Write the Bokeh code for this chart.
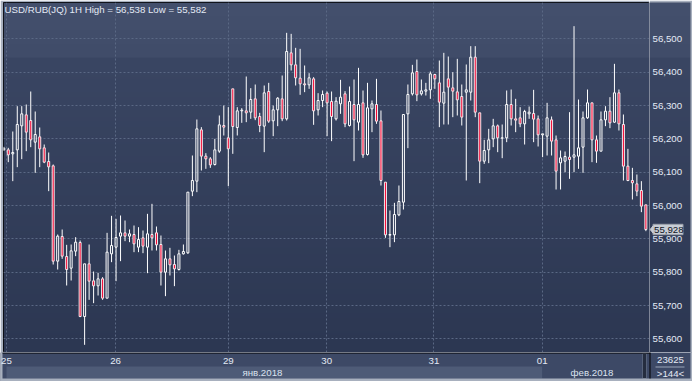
import numpy as np
from bokeh.plotting import figure
from bokeh.models import Range1d, FixedTicker, Label, ColumnDataSource
from bokeh.layouts import column, row
from bokeh.core.properties import value
from bokeh.embed import file_html
from bokeh.resources import INLINE

# ---------------- data ----------------
opens = [56.167, 56.167, 56.155, 56.167, 56.239, 56.272, 56.255, 56.190, 56.206, 56.173,
         56.132, 56.119, 55.833, 55.907, 55.847, 55.812, 55.863, 55.889, 55.667, 55.825,
         55.774, 55.759, 55.780, 55.722, 55.855, 55.875, 55.908, 55.918, 55.908, 55.913,
         55.875, 55.903, 55.875, 55.913, 55.918, 55.883, 55.800, 55.840, 55.823, 55.808,
         55.855, 55.858, 56.043, 56.073, 56.227, 56.148, 56.140, 56.123, 56.163, 56.240,
         56.203, 56.350, 56.234, 56.284, 56.284, 56.280, 56.320, 56.267, 56.238, 56.342,
         56.254, 56.287, 56.320, 56.260, 56.458, 56.422, 56.382, 56.365, 56.362, 56.380,
         56.287, 56.315, 56.337, 56.312, 56.260, 56.305, 56.335, 56.240, 56.303, 56.250,
         56.308, 56.153, 56.290, 56.303, 56.254, 56.070, 55.911, 55.912, 55.972, 56.010,
         56.275, 56.335, 56.402, 56.335, 56.343, 56.347, 56.393, 56.368, 56.307, 56.380,
         56.353, 56.341, 56.327, 56.340, 56.340, 56.445, 56.278, 56.133, 56.167, 56.200,
         56.239, 56.202, 56.203, 56.303, 56.260, 56.263, 56.245, 56.275, 56.276, 56.260,
         56.212, 56.208, 56.257, 56.197, 56.128, 56.133, 56.145, 56.145, 56.148, 56.175,
         56.263, 56.308, 56.197, 56.163, 56.257, 56.283, 56.250, 56.338, 56.243, 56.118,
         56.075, 56.065, 56.045, 56.002]
highs = [56.176, 56.173, 56.222, 56.298, 56.298, 56.303, 56.342, 56.282, 56.234, 56.183,
         56.159, 56.123, 55.913, 55.928, 55.882, 55.883, 55.905, 55.895, 55.825, 55.883,
         55.802, 55.798, 55.785, 55.918, 55.969, 55.960, 55.970, 55.955, 55.928, 55.940,
         55.935, 55.925, 55.975, 56.005, 55.937, 55.910, 55.865, 55.873, 55.850, 55.867,
         55.883, 56.040, 56.150, 56.258, 56.235, 56.157, 56.145, 56.200, 56.270, 56.300,
         56.295, 56.350, 56.295, 56.292, 56.387, 56.352, 56.363, 56.278, 56.360, 56.368,
         56.300, 56.325, 56.390, 56.518, 56.515, 56.473, 56.470, 56.420, 56.397, 56.385,
         56.337, 56.345, 56.342, 56.342, 56.325, 56.377, 56.343, 56.357, 56.378, 56.413,
         56.345, 56.368, 56.315, 56.380, 56.285, 56.070, 55.985, 56.008, 56.060, 56.273,
         56.363, 56.422, 56.438, 56.378, 56.368, 56.402, 56.395, 56.435, 56.458, 56.447,
         56.400, 56.440, 56.363, 56.423, 56.478, 56.478, 56.278, 56.197, 56.230, 56.260,
         56.243, 56.243, 56.345, 56.348, 56.320, 56.295, 56.287, 56.297, 56.347, 56.270,
         56.215, 56.308, 56.267, 56.210, 56.165, 56.162, 56.280, 56.538, 56.318, 56.282,
         56.348, 56.308, 56.210, 56.282, 56.298, 56.325, 56.425, 56.348, 56.273, 56.170,
         56.113, 56.093, 56.073, 56.002]
lows = [56.164, 56.130, 56.073, 56.115, 56.139, 56.163, 56.175, 56.098, 56.115, 56.127,
        56.043, 55.823, 55.808, 55.840, 55.760, 55.775, 55.848, 55.665, 55.582, 55.717,
        55.707, 55.730, 55.717, 55.722, 55.830, 55.773, 55.833, 55.893, 55.890, 55.860,
        55.860, 55.857, 55.797, 55.865, 55.865, 55.760, 55.728, 55.790, 55.758, 55.805,
        55.853, 55.855, 56.028, 56.040, 56.105, 56.110, 56.113, 56.120, 56.158, 56.210,
        56.058, 56.155, 56.210, 56.248, 56.250, 56.260, 56.256, 56.220, 56.160, 56.248,
        56.208, 56.238, 56.253, 56.255, 56.405, 56.360, 56.332, 56.340, 56.350, 56.242,
        56.270, 56.295, 56.208, 56.193, 56.255, 56.275, 56.235, 56.237, 56.133, 56.225,
        56.143, 56.150, 56.220, 56.245, 56.060, 55.903, 55.875, 55.890, 55.968, 55.988,
        56.172, 56.330, 56.313, 56.330, 56.330, 56.320, 56.350, 56.235, 56.243, 56.243,
        56.265, 56.270, 56.240, 56.075, 56.315, 56.265, 56.067, 56.125, 56.127, 56.175,
        56.160, 56.142, 56.190, 56.240, 56.220, 56.235, 56.183, 56.260, 56.190, 56.177,
        56.145, 56.150, 56.150, 56.048, 56.048, 56.100, 56.080, 56.100, 56.110, 56.098,
        56.260, 56.130, 56.128, 56.163, 56.238, 56.232, 56.248, 56.225, 56.075, 56.073,
        56.018, 56.028, 55.980, 55.923]
closes = [56.172, 56.152, 56.159, 56.243, 56.275, 56.220, 56.197, 56.213, 56.170, 56.130,
          56.116, 55.833, 55.908, 55.848, 55.808, 55.864, 55.890, 55.667, 55.825, 55.773,
          55.759, 55.780, 55.722, 55.860, 55.880, 55.904, 55.918, 55.908, 55.915, 55.885,
          55.898, 55.878, 55.915, 55.903, 55.882, 55.800, 55.840, 55.822, 55.810, 55.855,
          55.862, 56.040, 56.075, 56.230, 56.148, 56.140, 56.122, 56.167, 56.242, 56.235,
          56.170, 56.237, 56.284, 56.286, 56.278, 56.318, 56.263, 56.240, 56.338, 56.253,
          56.287, 56.322, 56.260, 56.462, 56.422, 56.383, 56.365, 56.362, 56.383, 56.284,
          56.315, 56.333, 56.308, 56.267, 56.313, 56.325, 56.245, 56.312, 56.257, 56.303,
          56.152, 56.293, 56.305, 56.253, 56.075, 55.912, 55.913, 55.973, 56.012, 56.273,
          56.333, 56.398, 56.332, 56.344, 56.347, 56.395, 56.380, 56.310, 56.340, 56.355,
          56.343, 56.317, 56.265, 56.347, 56.445, 56.280, 56.133, 56.165, 56.197, 56.239,
          56.203, 56.203, 56.303, 56.260, 56.256, 56.245, 56.282, 56.280, 56.259, 56.212,
          56.215, 56.263, 56.193, 56.103, 56.143, 56.147, 56.138, 56.152, 56.173, 56.263,
          56.308, 56.197, 56.163, 56.257, 56.283, 56.248, 56.338, 56.245, 56.118, 56.075,
          56.068, 56.043, 55.998, 55.928]

price_ticks = [55.6, 55.7, 55.8, 55.9, 56.0, 56.1, 56.2, 56.3, 56.4, 56.5]
price_labels = ["55,600", "55,700", "55,800", "55,900", "56,000",
                "56,100", "56,200", "56,300", "56,400", "56,500"]
day_ticks = [1.6, 25.9, 51.0, 72.9, 96.8, 120.9]          # bar index where each day starts
day_labels = ["25", "26", "29", "30", "31", "01"]
month_labels = ["янв.2018", "фев.2018"]
month_label_pos = [58.6, 132.0]
month_split = 120.9
title_text = "USD/RUB(JQ) 1H High = 56,538 Low = 55,582"
last_price = 55.928
last_price_text = "55,928"
info_top = "23625"
info_bottom = ">144<"

# ---------------- layout helpers ----------------
X_PX0, X_STEP = 3.3, 4.49


def px2i(px):
    return 1 + (px - X_PX0) / X_STEP


X0, X1 = px2i(3), px2i(649)
Y0, Y1 = 55.559, 56.609
PX_PER_UNIT = 333.3
FONT = value("Liberation Sans")
FS = "9.7px"
TXT = "#e4eaf5"
RED = "#f2002e"
EDGE = "#a8b0be"


def gradient_image():
    rows = []
    for yy in range(351, 1, -1):  # bottom row first
        if yy < 57:
            t = (yy - 2) / 55.0
            a, b = (0x44, 0x50, 0x6d), (0x40, 0x4c, 0x69)
        else:
            t = (yy - 57) / 295.0
            a, b = (0x3a, 0x46, 0x63), (0x2c, 0x37, 0x52)
        rows.append([int(a[k] + (b[k] - a[k]) * t) for k in range(3)] + [255])
    return np.array(rows, dtype=np.uint8).reshape(len(rows), 1, 4).view(np.uint32).reshape(len(rows), 1)


idx = np.arange(1, len(opens) + 1)
o = np.array(opens); h = np.array(highs); l = np.array(lows); c = np.array(closes)
top = np.maximum(o, c)
bot = np.minimum(o, c)
bear = c < o

src = ColumnDataSource(dict(x=idx, h=h, l=l, top=top, bot=bot))
bear_src = ColumnDataSource(dict(x=idx[bear], top=top[bear], bot=bot[bear]))
bull_src = ColumnDataSource(dict(x=idx[~bear], top=top[~bear], bot=bot[~bear]))

# ---------------- main chart ----------------
yr = Range1d(Y0, Y1)
p = figure(width=649, height=352, x_range=Range1d(X0, X1), y_range=yr,
           output_backend="svg", toolbar_location=None, x_axis_location=None,
           y_axis_location=None, min_border_left=3, min_border_right=0,
           min_border_top=2, min_border_bottom=0)
p.background_fill_color = "#36425e"
p.border_fill_color = EDGE
p.outline_line_color = "black"
p.outline_line_width = 1

p.image_rgba(image=[gradient_image()], x=X0, y=Y0, dw=X1 - X0, dh=Y1 - Y0, level="image")

p.xgrid.ticker = FixedTicker(ticks=day_ticks)
p.ygrid.ticker = FixedTicker(ticks=price_ticks)
for g in (p.xgrid, p.ygrid):
    g.grid_line_color = "#5a6884"
    g.grid_line_dash = "2 2"
    g.grid_line_width = 1

p.segment(x0="x", y0="top", x1="x", y1="h", source=src, line_color="white", line_width=1)
p.segment(x0="x", y0="bot", x1="x", y1="l", source=src, line_color="white", line_width=1)
p.vbar(x="x", width=0.445, top="top", bottom="bot", source=bull_src,
       fill_color=None, line_color="white", line_width=1)
p.vbar(x="x", width=0.445, top="top", bottom="bot", source=bear_src,
       fill_color=RED, line_color="white", line_width=0.9)

p.add_layout(Label(x=1, y=343.5, x_units="screen", y_units="screen", text=title_text,
                   text_font="Liberation Sans", text_font_size=FS, text_color=TXT,
                   text_baseline="middle", text_align="left"))

# ---------------- price scale (right) ----------------
r = figure(width=43, height=352, x_range=Range1d(0, 41), y_range=yr,
           output_backend="svg", toolbar_location=None, x_axis_location=None,
           y_axis_location=None, min_border_left=0, min_border_right=2,
           min_border_top=2, min_border_bottom=0)
r.border_fill_color = EDGE
r.background_fill_color = "#36425e"
r.outline_line_color = None
r.xgrid.visible = False
r.ygrid.visible = False
r.image_rgba(image=[gradient_image()], x=0, y=Y0, dw=41, dh=Y1 - Y0, level="image")
r.text(x=[3] * len(price_ticks), y=price_ticks, text=price_labels, text_font=FONT,
       text_font_size=FS, text_color=TXT, text_align="left", text_baseline="middle")
half = 5.2 / PX_PER_UNIT
r.quad(left=3.5, right=33.5, top=last_price + half, bottom=last_price - half,
       fill_color="#c8cdd6", line_color="#9aa0aa", line_width=1)
r.patch(x=[0.6, 3.6, 3.6], y=[last_price, last_price + 3.5 / PX_PER_UNIT, last_price - 3.5 / PX_PER_UNIT],
        fill_color="#c8cdd6", line_color="#c8cdd6")
r.text(x=[4.5], y=[last_price], text=[last_price_text], text_font=FONT, text_font_size=FS,
       text_color="#10151f", text_align="left", text_baseline="middle")

# ---------------- bottom strip ----------------
b = figure(width=692, height=29, x_range=Range1d(px2i(0), px2i(692)), y_range=Range1d(29, 0),
           output_backend="svg", toolbar_location=None, x_axis_location=None,
           y_axis_location=None, min_border=0, min_border_left=0, min_border_right=0,
           min_border_top=0, min_border_bottom=0)
b.background_fill_color = "#3d4966"
b.border_fill_color = "#3d4966"
b.outline_line_color = None
b.xgrid.visible = False
b.ygrid.visible = False

b.quad(left=px2i(6), right=month_split, top=14, bottom=26, fill_color="#4e5b77", line_color=None)
b.quad(left=px2i(642), right=px2i(646), top=1, bottom=26, fill_color="#252d3f", line_color="#56627a")
b.quad(left=px2i(0), right=px2i(692), top=26, bottom=29, fill_color=EDGE, line_color=None)
b.quad(left=px2i(0), right=px2i(2), top=0, bottom=29, fill_color=EDGE, line_color=None)
b.quad(left=px2i(690), right=px2i(692), top=0, bottom=29, fill_color=EDGE, line_color=None)
b.segment(x0=px2i(2), y0=0.5, x1=px2i(650), y1=0.5, line_color="black", line_width=1)
b.segment(x0=px2i(649.5), y0=0, x1=px2i(649.5), y1=26, line_color="black", line_width=1)
b.segment(x0=px2i(655), y0=14.5, x1=px2i(684), y1=14.5, line_color="#9aa5b8", line_width=1)

b.text(x=day_ticks, y=[8.5] * len(day_ticks), text=day_labels, text_font=FONT,
       text_font_size=FS, text_color=TXT, text_align="center", text_baseline="middle")
b.text(x=month_label_pos, y=[19.8] * 2, text=month_labels, text_font=FONT,
       text_font_size=FS, text_color="#dbe2ee", text_align="center", text_baseline="middle")
b.text(x=[px2i(670), px2i(670)], y=[7.8, 20.5], text=[info_top, info_bottom], text_font=FONT,
       text_font_size=FS, text_color=TXT, text_align="center", text_baseline="middle")

layout = column(row(p, r, spacing=0), b, spacing=0)
open("out.html", "w").write(file_html(layout, INLINE))
